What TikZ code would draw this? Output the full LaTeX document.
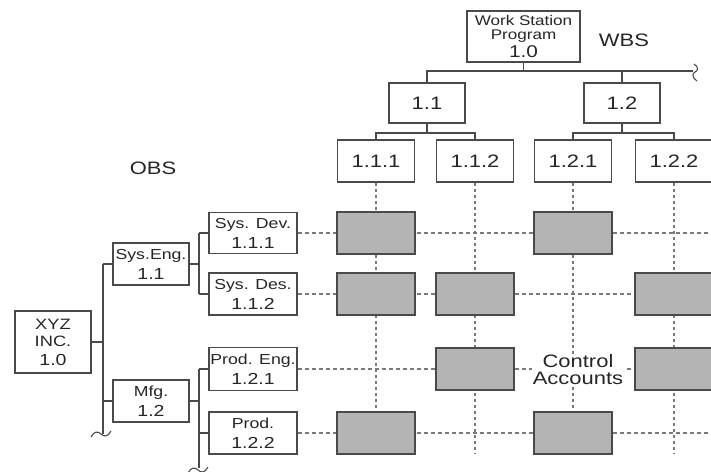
\documentclass[tikz,border=0pt]{standalone}
\usepackage{fontspec}
\setmainfont{Liberation Sans}[FakeStretch=1.22]
\definecolor{boxc}{HTML}{4A4A4A}
\definecolor{linec}{HTML}{7A7A7A}
\definecolor{shadec}{HTML}{B4B4B4}
\definecolor{txt}{HTML}{262626}
\newcommand{\fsz}[2]{\fontsize{#1}{#2}\selectfont}
\begin{document}
\begin{tikzpicture}[x=1pt,y=-1pt,
  box/.style={draw=boxc, line width=1.1pt, fill=white, inner sep=0pt, align=center, text=txt},
  cabox/.style={draw=boxc, line width=1.1pt, fill=shadec, minimum width=78pt, minimum height=42pt, inner sep=0pt},
  tree/.style={draw=boxc, line width=1.1pt},
  rowline/.style={draw=linec, line width=1.1pt, dash pattern=on 4pt off 3pt},
  colline/.style={draw=linec, line width=1.1pt, dash pattern=on 3pt off 3pt},
  lbl/.style={text=txt, inner sep=1pt, align=center},
  obsbox/.style={box, font=\fsz{14.5}{20}}]
\useasboundingbox (0,0) rectangle (711,471);
\fill[white] (0,0) rectangle (711,471);

% ---------- WBS ----------
\node[box, minimum width=113pt, minimum height=51pt, font=\fsz{14}{13.5}] (wbs0) at (523.5,36.5)
  {Work Station\\Program\\[2pt]{\fsz{17}{17}1.0}};
\node[lbl, font=\fsz{18}{18}] (wbsl) at (624,40) {WBS};
\node[box, minimum width=76pt, minimum height=40pt, font=\fsz{18}{18}] (w11) at (427,103) {1.1};
\node[box, minimum width=76pt, minimum height=40pt, font=\fsz{18}{18}] (w12) at (622,103) {1.2};
\node[box, minimum width=77pt, minimum height=42pt, font=\fsz{18}{18}] (w111) at (376,161) {1.1.1};
\node[box, minimum width=77pt, minimum height=42pt, font=\fsz{18}{18}] (w112) at (475,161) {1.1.2};
\node[box, minimum width=77pt, minimum height=42pt, font=\fsz{18}{18}] (w121) at (573,161) {1.2.1};
\node[box, minimum width=77pt, minimum height=42pt, font=\fsz{18}{18}] (w122) at (674,161) {1.2.2};

\coordinate (bar0) at (523.5,71);
\coordinate (sq1) at (693,71);
\coordinate (bar1) at (427,133);
\coordinate (bar2) at (622,133);
\draw[tree] (wbs0.south) -- (bar0);
\draw[tree] (w11.north) -- (w11.north |- bar0) -- (sq1);
\draw[tree] (w12.north) -- (w12.north |- bar0);
\draw[tree] (694,64) .. controls (699,67) and (698,71) .. (695,72) .. controls (692,73) and (692,78) .. (697,81);
\draw[tree] (w11.south) -- (bar1);
\draw[tree] (w111.north) -- (w111.north |- bar1) -- (w112.north |- bar1) -- (w112.north);
\draw[tree] (w12.south) -- (bar2);
\draw[tree] (w121.north) -- (w121.north |- bar2) -- (w122.north |- bar2) -- (w122.north);

% ---------- OBS ----------
\node[lbl, font=\fsz{18}{18}] (obsl) at (153,168) {OBS};
\node[box, minimum width=76pt, minimum height=62pt, font=\fsz{15}{17}] (o0) at (53,342)
  {XYZ\\INC.\\[2pt]{\fsz{16}{16}1.0}};
\node[obsbox, minimum width=76pt, minimum height=42pt] (o1) at (151,264)
  {Sys.Eng.\\{\fsz{16}{16}1.1}};
\node[obsbox, minimum width=76pt, minimum height=42pt] (o2) at (151,401)
  {Mfg.\\{\fsz{16}{16}1.2}};
\node[obsbox, minimum width=88pt, minimum height=41pt] (o11) at (253,233)
  {Sys. Dev.\\{\fsz{16}{16}1.1.1}};
\node[obsbox, minimum width=88pt, minimum height=42pt] (o12) at (253,294)
  {Sys. Des.\\{\fsz{16}{16}1.1.2}};
\node[obsbox, minimum width=88pt, minimum height=43pt] (o21) at (253,369)
  {Prod. Eng.\\{\fsz{16}{16}1.2.1}};
\node[obsbox, minimum width=88pt, minimum height=42pt] (o22) at (253,433)
  {Prod.\\{\fsz{16}{16}1.2.2}};

\coordinate (t0) at (103,0);
\coordinate (t0b) at (103,434);
\coordinate (t1) at (199,0);
\coordinate (t1b) at (199,468);
\draw[tree] (o0.east) -- (o0.east -| t0);
\draw[tree] (o1.west -| t0) -- (t0b);
\draw[tree] (o1.west) -- (o1.west -| t0);
\draw[tree] (o2.west) -- (o2.west -| t0);
\draw[tree] (91,437) .. controls (94,431) and (98,431) .. (101,434) .. controls (104,437) and (108,437) .. (111,431);
\draw[tree] (o1.east) -- (o1.east -| t1);
\draw[tree] (o11.west -| t1) -- (o12.west -| t1);
\draw[tree] (o11.west) -- (o11.west -| t1);
\draw[tree] (o12.west) -- (o12.west -| t1);
\draw[tree] (o2.east) -- (o2.east -| t1);
\draw[tree] (o21.west -| t1) -- (t1b);
\draw[tree] (o21.west) -- (o21.west -| t1);
\draw[tree] (o22.west) -- (o22.west -| t1);
\draw[tree] (188,473) .. controls (191,467) and (195,467) .. (198,470) .. controls (201,473) and (205,473) .. (208,467);

% ---------- matrix lines ----------
\coordinate (re) at (711,0);
\coordinate (cb) at (0,454);
\draw[rowline] (o11.east) -- (o11.east -| re);
\draw[rowline] (o12.east) -- (o12.east -| re);
\draw[rowline] (o21.east) -- (o21.east -| re);
\draw[rowline] (o22.east) -- (o22.east -| re);
\draw[colline] (w111.south) -- (w111.south |- cb);
\draw[colline] (w112.south) -- (w112.south |- cb);
\draw[colline] (w121.south) -- (w121.south |- cb);
\draw[colline] (w122.south) -- (w122.south |- cb);

% ---------- control accounts ----------
\node[cabox] (c11) at (w111 |- o11) {};
\node[cabox] (c13) at (w121 |- o11) {};
\node[cabox] (c21) at (w111 |- o12) {};
\node[cabox] (c22) at (w112 |- o12) {};
\node[cabox] (c24) at (w122 |- o12) {};
\node[cabox] (c32) at (w112 |- o21) {};
\node[cabox] (c34) at (w122 |- o21) {};
\node[cabox] (c41) at (w111 |- o22) {};
\node[cabox] (c43) at (w121 |- o22) {};
\node[lbl, fill=white, font=\fsz{18}{17}] (cal) at (578,370) {Control\\Accounts};
\end{tikzpicture}
\end{document}
